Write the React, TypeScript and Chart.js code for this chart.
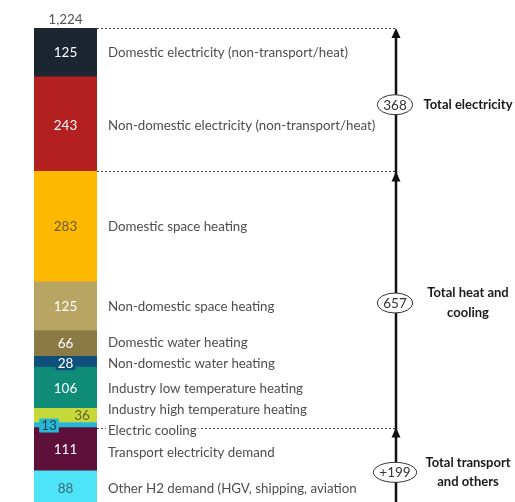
import React, { useEffect, useRef } from 'react';
import { Chart, registerables } from 'chart.js';

Chart.register(...registerables);

// ---- data (top of the stack first) ----
const categories = [
  'Domestic electricity (non-transport/heat)',
  'Non-domestic electricity (non-transport/heat)',
  'Domestic space heating',
  'Non-domestic space heating',
  'Domestic water heating',
  'Non-domestic water heating',
  'Industry low temperature heating',
  'Industry high temperature heating',
  'Electric cooling',
  'Transport electricity demand',
  'Other H2 demand (HGV, shipping, aviation',
];
const values = [125, 243, 283, 125, 66, 28, 106, 36, 13, 111, 88];
const totalLabel = '1,224';
const groupNames = [['Total electricity'], ['Total heat and', 'cooling'], ['Total transport', 'and others']];
const groupSizes = [2, 7, 2];
const groupBadges = ['368', '657', '+199'];

// ---- styles ----
const colors = [
  '#1b2631', '#b3201f', '#fdb900', '#b8a463', '#8c7a45', '#0e4f7c',
  '#0f8c78', '#c5d93a', '#27b9d4', '#5e0f3a', '#4ee3f7',
];
const valueText = ['#ffffff', '#ffffff', '#6b5a26', '#ffffff', '#ffffff', '#ffffff', '#ffffff', '#6b6030', '#1a3d5c', '#ffffff', '#3d6b78'];
const valueBox: (string | null)[] = [null, null, null, null, null, '#0e4f7c', null, null, '#27b9d4', null, null];
const valueDx = [0, 0, 0, 0, 0, 0, 0, 16.5, -16.5, 0, 0];
const valueDy = [0.5, 1.5, 0.5, 0.5, 0.5, 1.5, 1, 0.5, 0.5, 0, 1];
const labelDy = [0.5, 1.5, 0.5, 0.5, -0.5, 2.5, 1, -5.5, 6, 4, 1];
const badgeDy = [5, 3.5, 6];

const LABEL_FONT = '13.3px Lato, "Open Sans", sans-serif';
const VALUE_FONT = '13.5px Lato, "Open Sans", sans-serif';
const BOLD_FONT = 'bold 13px Lato, "Open Sans", sans-serif';
const ARROW_X = 396;
const LABEL_X = 108;
const GROUP_X = 468;

const overlay = {
  id: 'overlay',
  afterDatasetsDraw(chart: any) {
    const ctx: CanvasRenderingContext2D = chart.ctx;
    const y = chart.scales.y;
    const area = chart.chartArea;
    const total = values.reduce((a, b) => a + b, 0);
    let cum = total;
    const segs = values.map((v) => {
      const top = y.getPixelForValue(cum);
      cum -= v;
      const bottom = y.getPixelForValue(cum);
      return { top, bottom, mid: (top + bottom) / 2 };
    });
    const barMid = (area.left + area.right) / 2;

    ctx.save();
    ctx.textBaseline = 'middle';

    // total above bar
    ctx.font = VALUE_FONT;
    ctx.fillStyle = '#555555';
    ctx.textAlign = 'center';
    ctx.fillText(totalLabel, barMid, area.top - 8);

    // group boundaries
    const groups: { top: number; bottom: number; sum: number }[] = [];
    let idx = 0;
    groupSizes.forEach((n) => {
      const top = segs[idx].top;
      const bottom = segs[idx + n - 1].bottom;
      let sum = 0;
      for (let k = idx; k < idx + n; k++) sum += values[k];
      groups.push({ top, bottom, sum });
      idx += n;
    });

    // dashed lines
    ctx.strokeStyle = '#444';
    ctx.lineWidth = 1;
    ctx.setLineDash([2, 2]);
    groups.forEach((g) => {
      const yy = Math.round(g.top) + 0.5;
      ctx.beginPath();
      ctx.moveTo(area.right, yy);
      ctx.lineTo(ARROW_X, yy);
      ctx.stroke();
    });
    ctx.setLineDash([]);

    // value labels
    segs.forEach((s, i) => {
      ctx.font = VALUE_FONT;
      const txt = String(values[i]);
      const x = barMid + valueDx[i];
      const yy = s.mid + valueDy[i];
      const box = valueBox[i];
      if (box) {
        const w = ctx.measureText(txt).width + 4;
        ctx.fillStyle = box;
        ctx.fillRect(x - w / 2, yy - 7, w, 14);
      }
      ctx.fillStyle = valueText[i];
      ctx.textAlign = 'center';
      ctx.fillText(txt, x, yy);
    });

    // category labels
    segs.forEach((s, i) => {
      ctx.font = LABEL_FONT;
      const yy = s.mid + labelDy[i];
      const w = ctx.measureText(categories[i]).width;
      ctx.fillStyle = '#ffffff';
      ctx.fillRect(LABEL_X - 2, yy - 7, w + 4, 14);
      ctx.fillStyle = '#4d4d4d';
      ctx.textAlign = 'left';
      ctx.fillText(categories[i], LABEL_X, yy);
    });

    // vertical arrow
    ctx.strokeStyle = '#111';
    ctx.fillStyle = '#111';
    ctx.lineWidth = 2.5;
    ctx.beginPath();
    ctx.moveTo(ARROW_X, area.top + 4);
    ctx.lineTo(ARROW_X, chart.height);
    ctx.stroke();
    groups.forEach((g) => {
      ctx.beginPath();
      ctx.moveTo(ARROW_X, g.top);
      ctx.lineTo(ARROW_X - 4.5, g.top + 10);
      ctx.lineTo(ARROW_X + 4.5, g.top + 10);
      ctx.closePath();
      ctx.fill();
    });

    // badges + group names
    groups.forEach((g, i) => {
      const cy = (g.top + g.bottom) / 2 + badgeDy[i];
      ctx.font = '13.5px Lato, "Open Sans", sans-serif';
      const tw = ctx.measureText(groupBadges[i]).width;
      ctx.beginPath();
      ctx.ellipse(ARROW_X - 1, cy, tw / 2 + 6, 10, 0, 0, Math.PI * 2);
      ctx.fillStyle = '#ffffff';
      ctx.fill();
      ctx.strokeStyle = '#333';
      ctx.lineWidth = 1;
      ctx.stroke();
      ctx.fillStyle = '#333';
      ctx.textAlign = 'center';
      ctx.fillText(groupBadges[i], ARROW_X - 1, cy + 0.5);

      ctx.font = BOLD_FONT;
      ctx.fillStyle = '#1a1a1a';
      const lines = groupNames[i];
      const lh = 19.5;
      lines.forEach((ln, k) => {
        ctx.fillText(ln, GROUP_X, cy + (k - (lines.length - 1) / 2) * lh);
      });
    });

    ctx.restore();
  },
};

export default function App() {
  const ref = useRef<HTMLCanvasElement>(null);
  useEffect(() => {
    if (!ref.current) return;
    const order = values.map((_, i) => i).reverse(); // bottom of stack first
    const chart = new Chart(ref.current, {
      type: 'bar',
      data: {
        labels: ['Demand'],
        datasets: order.map((i) => ({
          label: categories[i],
          data: [values[i]],
          backgroundColor: colors[i],
          borderWidth: 0,
          barPercentage: 1,
          categoryPercentage: 1,
        })),
      },
      options: {
        responsive: false,
        animation: false,
        layout: { padding: { left: 34, right: 418, top: 28, bottom: 0 } },
        scales: {
          x: { display: false, stacked: true },
          y: { display: false, stacked: true, min: 8, max: 1224 },
        },
        plugins: { legend: { display: false }, tooltip: { enabled: false } },
      },
      plugins: [overlay],
    });
    return () => chart.destroy();
  }, []);
  return (
    <div style={{ position: 'absolute', left: 0, top: 0, width: 515, height: 502, background: '#ffffff', overflow: 'hidden' }}>
      <canvas ref={ref} width={515} height={502} style={{ display: 'block' }} />
    </div>
  );
}
